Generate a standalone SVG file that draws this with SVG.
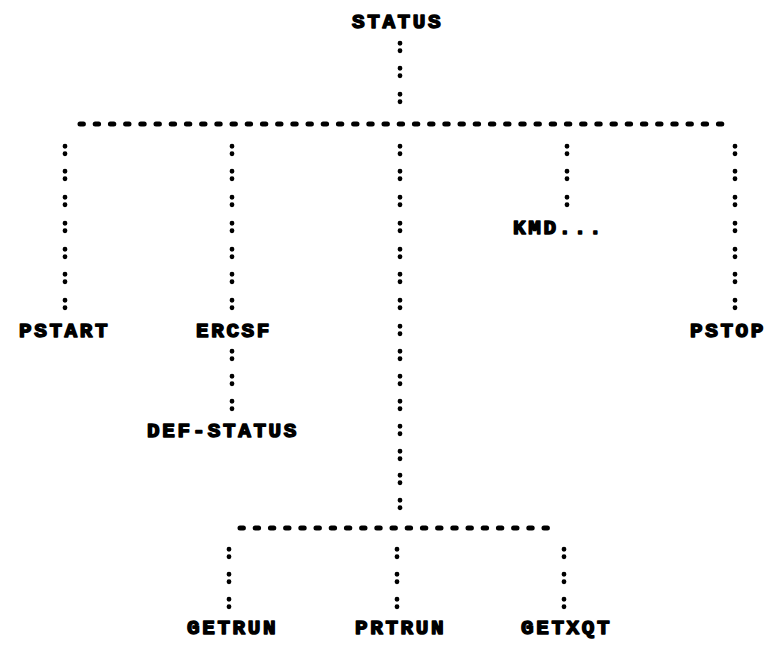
<svg xmlns="http://www.w3.org/2000/svg" width="770" height="647" viewBox="0 0 770 647">
<style>
  .lbl { font-family: "Liberation Mono", "DejaVu Sans Mono", monospace; font-weight: bold; font-size: 21px; letter-spacing: 2.6px; fill: #000; stroke: #000; stroke-width: 1.5px; stroke-linejoin: round; }
  .col { fill: none; stroke: #000; stroke-width: 4.8; stroke-linecap: round; }
  .dash { fill: none; stroke: #000; stroke-width: 5; stroke-linecap: round; stroke-dasharray: 3.4 11.8; }
</style>
<rect width="770" height="647" fill="#fff"/>
<g id="connectors">
  <path class="col" d="M400 43.25h0m0 7.5h0 M400 68.25h0m0 7.5h0 M400 94.25h0m0 7.5h0"/>
  <path class="dash" d="M80 124 H726"/>
  <path class="col" d="M65 146.25h0m0 7.5h0 M65 171.25h0m0 7.5h0 M65 197.25h0m0 7.5h0 M65 223.25h0m0 7.5h0 M65 249.25h0m0 7.5h0 M65 274.25h0m0 7.5h0 M65 300.25h0m0 7.5h0"/>
  <path class="col" d="M232 146.25h0m0 7.5h0 M232 171.25h0m0 7.5h0 M232 197.25h0m0 7.5h0 M232 223.25h0m0 7.5h0 M232 249.25h0m0 7.5h0 M232 274.25h0m0 7.5h0 M232 300.25h0m0 7.5h0"/>
  <path class="col" d="M400 146.25h0m0 7.5h0 M400 171.25h0m0 7.5h0 M400 197.25h0m0 7.5h0 M400 223.25h0m0 7.5h0 M400 249.25h0m0 7.5h0 M400 274.25h0m0 7.5h0 M400 300.25h0m0 7.5h0 M400 326.25h0m0 7.5h0 M400 351.25h0m0 7.5h0 M400 376.25h0m0 7.5h0 M400 401.25h0m0 7.5h0 M400 426.25h0m0 7.5h0 M400 451.25h0m0 7.5h0 M400 475.25h0m0 7.5h0 M400 500.25h0m0 7.5h0"/>
  <path class="col" d="M567 146.25h0m0 7.5h0 M567 171.25h0m0 7.5h0 M567 197.25h0m0 7.5h0"/>
  <path class="col" d="M735 146.25h0m0 7.5h0 M735 171.25h0m0 7.5h0 M735 197.25h0m0 7.5h0 M735 223.25h0m0 7.5h0 M735 249.25h0m0 7.5h0 M735 274.25h0m0 7.5h0 M735 300.25h0m0 7.5h0"/>
  <path class="col" d="M232 351.25h0m0 7.5h0 M232 376.25h0m0 7.5h0 M232 401.25h0m0 7.5h0"/>
  <path class="dash" d="M240 528 H554"/>
  <path class="col" d="M229 549.25h0m0 7.5h0 M229 574.25h0m0 7.5h0 M229 599.25h0m0 7.5h0"/>
  <path class="col" d="M397 549.25h0m0 7.5h0 M397 574.25h0m0 7.5h0 M397 599.25h0m0 7.5h0"/>
  <path class="col" d="M564 549.25h0m0 7.5h0 M564 574.25h0m0 7.5h0 M564 599.25h0m0 7.5h0"/>
</g>
<g id="status"><text class="lbl" x="352" y="28">STATUS</text></g>
<g id="pstart"><text class="lbl" x="19" y="337">PSTART</text></g>
<g id="ercsf"><text class="lbl" x="196" y="337">ERCSF</text></g>
<g id="kmd"><text class="lbl" x="513" y="234">KMD...</text></g>
<g id="pstop"><text class="lbl" x="690" y="337">PSTOP</text></g>
<g id="def-status"><text class="lbl" x="147" y="437">DEF-STATUS</text></g>
<g id="getrun"><text class="lbl" x="187" y="634">GETRUN</text></g>
<g id="prtrun"><text class="lbl" x="355" y="634">PRTRUN</text></g>
<g id="getxqt"><text class="lbl" x="521" y="634">GETXQT</text></g>
</svg>
